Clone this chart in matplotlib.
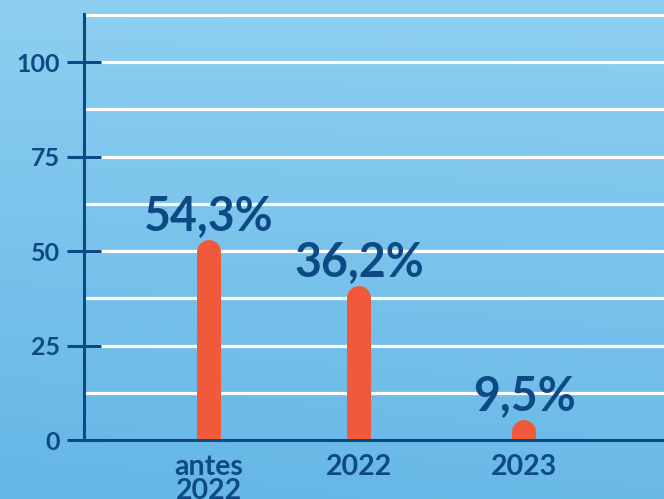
import numpy as np
import matplotlib
matplotlib.use("Agg")
import matplotlib.pyplot as plt
from matplotlib.colors import LinearSegmentedColormap

# ---- data ----
categories = ["antes\n2022", "2022", "2023"]
bar_tops = [52.9, 40.7, 5.3]            # visual heights of the bars as drawn
value_labels = ["54,3%", "36,2%", "9,5%"]
yticks = [0, 25, 50, 75, 100]
gridlines = [12.5, 25, 37.5, 50, 62.5, 75, 87.5, 100, 112.5]

NAVY = "#0d4a85"
BAR = "#f05a3a"
FONT = ["Lato", "DejaVu Sans"]

W, H, DPI = 664, 499, 100
fig = plt.figure(figsize=(W / DPI, H / DPI), dpi=DPI)

# background gradient
bg = fig.add_axes([0, 0, 1, 1], zorder=0)
bg.set_axis_off()
cmap = LinearSegmentedColormap.from_list("bg", ["#8dcff0", "#64b6e6"])
yy, xx = np.mgrid[0:1:200j, 0:1:200j]
grad = 0.85 * yy + 0.15 * (1 - xx) * yy
bg.imshow(grad, cmap=cmap, aspect="auto", extent=[0, 1, 0, 1], origin="upper", vmin=0, vmax=1)

# main axes
ax_left, ax_bottom, ax_w, ax_h = 84, 59, 580, 426
ax = fig.add_axes([ax_left / W, ax_bottom / H, ax_w / W, ax_h / H], zorder=1)
ax.patch.set_alpha(0)

ymax = 112.7
ax.set_ylim(0, ymax)
xpos = [0, 1, 2.1]
ax.set_xlim(-0.833, 3.033)
px_per_unit = ax_h / ymax

# gridlines
ax.hlines(gridlines, -0.833, 3.033, colors="white", linewidth=2.3, zorder=1)

# bars with rounded tops
bar_px = 24
cap = (bar_px / 2) / px_per_unit
for x, top in zip(xpos, bar_tops):
    ax.vlines(x, -10, top - cap, colors=BAR, linewidth=bar_px * 72 / DPI,
              capstyle="round", zorder=2)

# value labels
for x, top, lab in zip(xpos, bar_tops, value_labels):
    ax.annotate(lab, (x, top), xytext=(0, 7.4), textcoords="offset points",
                ha="center", va="baseline", fontsize=33.5, fontweight="bold",
                color=NAVY, family=FONT, zorder=4)

# spines & ticks
for s in ["top", "right"]:
    ax.spines[s].set_visible(False)
for s in ["left", "bottom"]:
    ax.spines[s].set_color(NAVY)
    ax.spines[s].set_linewidth(2.2)
    ax.spines[s].set_zorder(3)

ax.set_yticks(yticks)
ax.set_yticklabels([str(v) for v in yticks], fontsize=18, fontweight="bold",
                   color=NAVY, family=FONT)
ax.tick_params(axis="y", direction="inout", length=25, width=2.2, color=NAVY, pad=5)

ax.set_xticks(xpos)
ax.set_xticklabels(categories, fontsize=20.5, fontweight="bold", color=NAVY,
                   family=FONT, linespacing=0.9)
ax.tick_params(axis="x", length=0, pad=10)

fig.savefig("out.png", dpi=DPI)
